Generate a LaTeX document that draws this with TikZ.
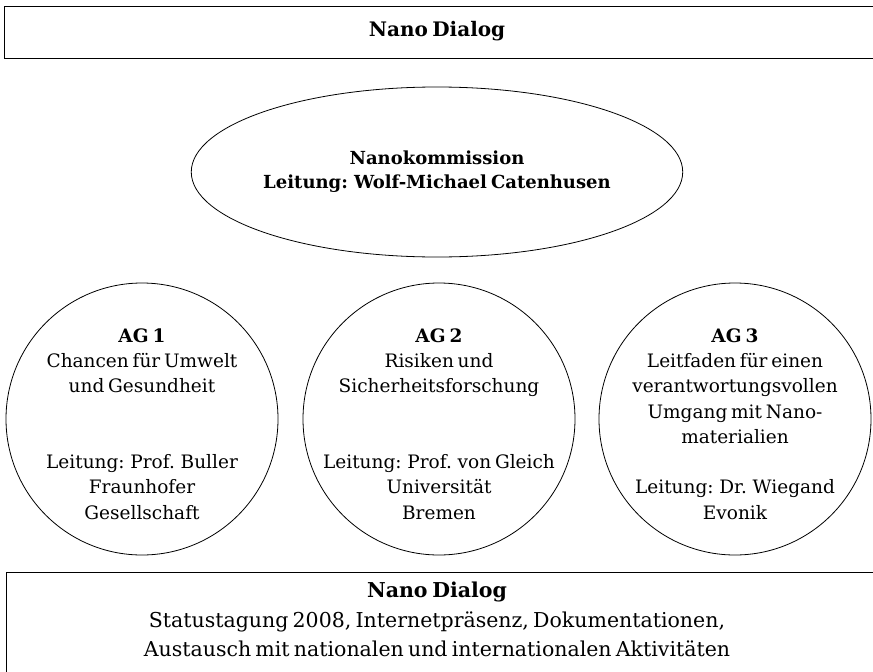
\documentclass[tikz,border=0pt]{standalone}
\usepackage{fontspec}
\setmainfont[WordSpace=0.65]{DejaVu Serif}
\usetikzlibrary{shapes.geometric}
\begin{document}
\begin{tikzpicture}[x=1pt,y=-1pt,
  frame/.style={draw, line width=0.9pt, rectangle, inner sep=0pt},
  oval/.style={draw, line width=0.8pt, ellipse, inner sep=0pt,
    minimum width=434pt, minimum height=170pt, align=center,
    font=\bfseries\fontsize{18}{24}\selectfont},
  agcircle/.style={draw, line width=0.8pt, circle, inner sep=0pt, minimum size=272pt},
  agtext/.style={align=center, inner sep=0pt, font=\fontsize{18.5}{25.3}\selectfont},
  headtext/.style={align=center, inner sep=0pt, font=\bfseries\fontsize{20}{25}\selectfont},
  foottext/.style={align=center, inner sep=0pt, font=\fontsize{20.5}{29.3}\selectfont}
]
\useasboundingbox (0,0) rectangle (873,672);

% header bar
\node[frame, minimum width=872pt, minimum height=52pt] (top) at (440,32) {};
\node[headtext] (toptext) at (437,31) {Nano Dialog};

% commission
\node[oval] (komm) at (437,172) {Nanokommission\\Leitung: Wolf-Michael Catenhusen};

% working groups
\node[agcircle] (ag1) at (142,419) {};
\node[agcircle] (ag2) at (439,419) {};
\node[agcircle] (ag3) at (735,419) {};

\node[agtext] (ag1t) at (142,424) {\textbf{AG 1}\\Chancen für Umwelt\\und Gesundheit\\[50.6pt]
  Leitung: Prof. Buller\\Fraunhofer\\Gesellschaft};
\node[agtext] (ag2t) at (439,424) {\textbf{AG 2}\\Risiken und\\Sicherheitsforschung\\[50.6pt]
  Leitung: Prof. von Gleich\\Universität\\Bremen};
\node[agtext] (ag3t) at (735,424) {\textbf{AG 3}\\Leitfaden für einen\\verantwortungsvollen\\Umgang mit Nano-\\materialien\\[25.3pt]
  Leitung: Dr. Wiegand\\Evonik};

% footer bar
\node[frame, minimum width=870pt, minimum height=104pt] (bottom) at (441,624) {};
\node[foottext] (bottomt) at (437,619.5) {\textbf{Nano Dialog}\\
  Statustagung 2008, Internetpräsenz, Dokumentationen,\\
  Austausch mit nationalen und internationalen Aktivitäten};
\end{tikzpicture}
\end{document}
